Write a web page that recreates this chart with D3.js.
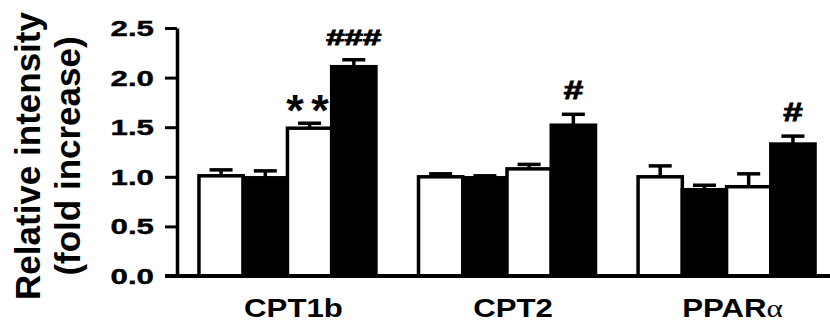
<!DOCTYPE html>
<html>
<head>
<meta charset="utf-8">
<script src="https://cdn.jsdelivr.net/npm/d3@7"></script>
<style>
  html, body { margin: 0; padding: 0; background: #fff; }
  svg { display: block; }
  text { font-family: "Liberation Sans", Arial, sans-serif; font-weight: bold; fill: #000; }
</style>
</head>
<body>
<svg id="chart" width="830" height="325"></svg>
<script>
// Genes on the x axis
const categories = ["CPT1b", "CPT2", "PPARα"];

// Four treatment groups per gene (open, filled, open, filled)
const seriesKeys = ["group1", "group2", "group3", "group4"];
const seriesFill = ["#fff", "#000", "#fff", "#000"];

// Mean fold increase per gene, one array per group
const group1Values = [1.01, 1.00, 1.00];
const group2Values = [0.99, 0.99, 0.87];
const group3Values = [1.49, 1.08, 0.90];
const group4Values = [2.11, 1.52, 1.33];

// Error (upper bar only)
const group1Errors = [0.06, 0.03, 0.11];
const group2Errors = [0.07, 0.02, 0.045];
const group3Errors = [0.05, 0.045, 0.13];
const group4Errors = [0.07, 0.11, 0.08];

// Significance marks: gene, group, text
const markGenes  = ["CPT1b", "CPT1b", "CPT2", "PPARα"];
const markGroups = ["group3", "group4", "group4", "group4"];
const markTexts  = ["**", "###", "#", "#"];

const yTicks = [0, 0.5, 1.0, 1.5, 2.0, 2.5];
const yLabelLines = ["Relative intensity", "(fold increase)"];

const valuesBySeries = [group1Values, group2Values, group3Values, group4Values];
const errorsBySeries = [group1Errors, group2Errors, group3Errors, group4Errors];

const rows = [];
categories.forEach((cat, ci) => {
  seriesKeys.forEach((key, si) => {
    rows.push({ cat, key, si, value: valuesBySeries[si][ci], err: errorsBySeries[si][ci] });
  });
});

const svg = d3.select("#chart");
const axisX = 177, baseY = 276, topY = 28;

const y = d3.scaleLinear().domain([0, 2.5]).range([baseY, topY]);
const x0 = d3.scaleBand().domain(categories).range([axisX, 837])
  .paddingInner(0.194).paddingOuter(0.1);
const x1 = d3.scaleBand().domain(seriesKeys).range([0, x0.bandwidth()]).padding(0);

const SW = 3.5;

// Bars
const g = svg.append("g");
g.selectAll("rect.bar").data(rows).join("rect")
  .attr("class", "bar")
  .attr("x", d => x0(d.cat) + x1(d.key))
  .attr("y", d => y(d.value))
  .attr("width", x1.bandwidth())
  .attr("height", d => y(0) - y(d.value))
  .attr("fill", d => seriesFill[d.si])
  .attr("stroke", "#000")
  .attr("stroke-width", SW);

// Error bars (upper)
const capW = x1.bandwidth() * 0.52;
const eb = g.selectAll("g.err").data(rows).join("g").attr("class", "err")
  .attr("stroke", "#000").attr("stroke-width", SW);
eb.append("line")
  .attr("x1", d => x0(d.cat) + x1(d.key) + x1.bandwidth() / 2)
  .attr("x2", d => x0(d.cat) + x1(d.key) + x1.bandwidth() / 2)
  .attr("y1", d => y(d.value))
  .attr("y2", d => y(d.value + d.err));
eb.append("line")
  .attr("x1", d => x0(d.cat) + x1(d.key) + x1.bandwidth() / 2 - capW / 2)
  .attr("x2", d => x0(d.cat) + x1(d.key) + x1.bandwidth() / 2 + capW / 2)
  .attr("y1", d => y(d.value + d.err))
  .attr("y2", d => y(d.value + d.err));

// Baseline
svg.append("line")
  .attr("x1", axisX - 12).attr("x2", 830)
  .attr("y1", y(0)).attr("y2", y(0))
  .attr("stroke", "#000").attr("stroke-width", 4);

// Y axis
const yAxis = d3.axisLeft(y).tickValues(yTicks).tickFormat(d3.format(".1f"))
  .tickSize(12).tickSizeOuter(0);
const ya = svg.append("g").attr("transform", `translate(${axisX},0)`).call(yAxis);
ya.select(".domain").attr("stroke", "#000").attr("stroke-width", SW);
ya.selectAll(".tick line").attr("stroke", "#000").attr("stroke-width", 3);
ya.selectAll(".tick text")
  .attr("x", 0).attr("dy", null).attr("y", 0)
  .attr("transform", "translate(-23,7.5) scale(1.42,1)")
  .style("font-size", "22px")
  .style("font-family", "'Liberation Sans', Arial, sans-serif")
  .style("font-weight", "bold")
  .attr("fill", "#000")
  .attr("stroke", "#000").attr("stroke-width", 0.4);

// Y label (two lines)
const yl = svg.append("text")
  .attr("transform", "translate(0,156) rotate(-90)")
  .attr("text-anchor", "middle")
  .style("font-size", "35px");
yl.selectAll("tspan").data(yLabelLines).join("tspan")
  .attr("x", 0)
  .attr("y", (d, i) => 40 + i * 40)
  .text(d => d);

// Category labels
categories.forEach(cat => {
  const t = svg.append("text")
    .attr("text-anchor", "middle")
    .attr("transform", `translate(${x0(cat) + x0.bandwidth() / 2 + 6},317) scale(1.2,1)`)
    .style("font-size", "26px");
  if (cat.endsWith("α")) {
    t.append("tspan").text(cat.slice(0, -1));
    t.append("tspan").text("α")
      .style("font-family", "'Liberation Serif', 'Times New Roman', serif")
      .style("font-weight", "normal");
  } else {
    t.text(cat);
  }
});

// Significance marks
markTexts.forEach((txt, i) => {
  const d = rows.find(r => r.cat === markGenes[i] && r.key === markGroups[i]);
  const cx = x0(d.cat) + x1(d.key) + x1.bandwidth() / 2;
  const capY = y(d.value + d.err);
  if (txt.startsWith("*")) {
    svg.append("text")
      .attr("text-anchor", "middle")
      .attr("transform", `translate(${cx - 2 + 3.75},${capY + 3})`)
      .style("font-size", "45px")
      .style("letter-spacing", "7.5px")
      .text(txt);
  } else {
    const fs = txt.length > 1 ? 22 : 25;
    svg.append("text")
      .attr("text-anchor", "middle")
      .attr("transform", `translate(${cx},${capY - 15}) scale(${txt.length > 1 ? 1.5 : 1.4},1)`)
      .style("font-size", fs + "px")
      .attr("stroke", "#000").attr("stroke-width", 0.9)
      .text(txt);
  }
});
</script>
</body>
</html>
